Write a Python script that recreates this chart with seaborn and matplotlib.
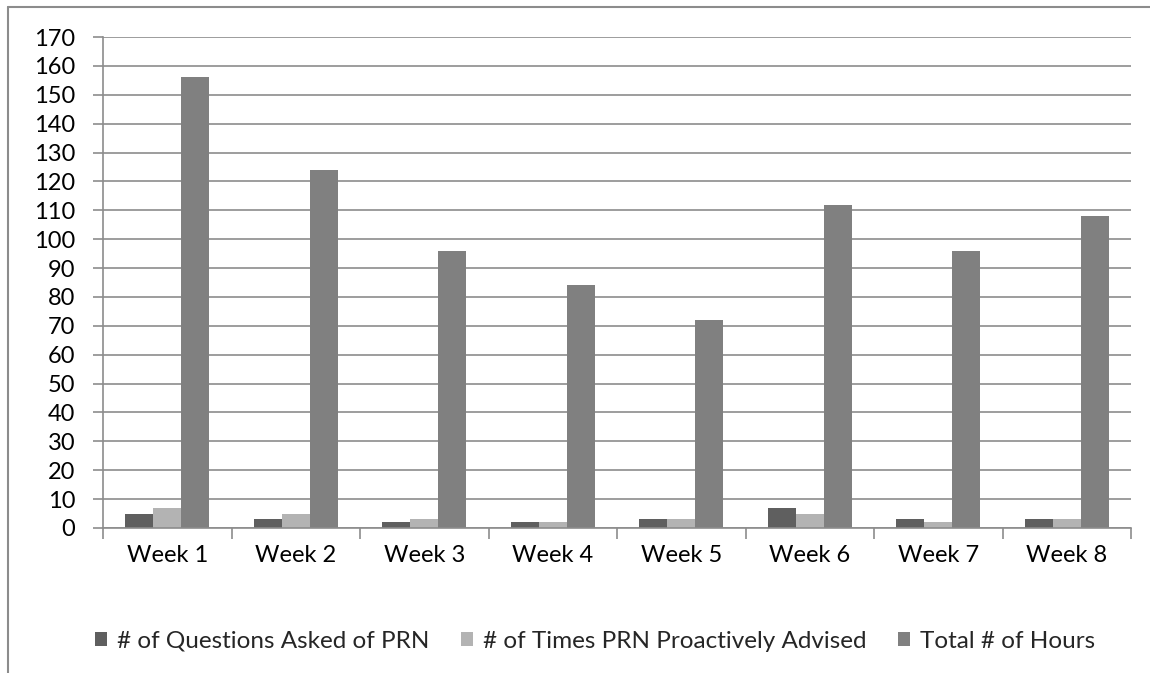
import matplotlib
matplotlib.use("Agg")
import matplotlib.pyplot as plt
import matplotlib.lines as mlines
import numpy as np
import pandas as pd
import seaborn as sns

weeks = ["Week 1", "Week 2", "Week 3", "Week 4", "Week 5", "Week 6", "Week 7", "Week 8"]
questions = [5, 3, 2, 2, 3, 7, 3, 3]
advised = [7, 5, 3, 2, 3, 5, 2, 3]
hours = [156, 124, 96, 84, 72, 112, 96, 108]

series_names = ["# of Questions Asked of PRN", "# of Times PRN Proactively Advised", "Total # of Hours"]
colors = ["#5f5f5f", "#b3b3b3", "#808080"]

data = pd.DataFrame({
    "week": weeks * 3,
    "series": [series_names[0]] * 8 + [series_names[1]] * 8 + [series_names[2]] * 8,
    "value": questions + advised + hours,
})

sns.set_theme(style="white")
plt.rcParams["font.family"] = ["Lato", "DejaVu Sans"]

fig = plt.figure(figsize=(11.5, 6.73), dpi=100)
ax = fig.add_axes([103 / 1150, 1 - 528 / 673, (1131 - 103) / 1150, (528 - 37) / 673])

sns.barplot(data=data, x="week", y="value", hue="series", palette=colors,
            width=0.655, saturation=1, linewidth=0, ax=ax, legend=True)

ax.set_ylim(0, 170)
ax.set_yticks(range(0, 171, 10))
ax.set_xlim(-0.5, 7.5)
ax.yaxis.grid(True, color="#8c8c8c", linewidth=1.2)
ax.set_axisbelow(True)
ax.set_xlabel("")
ax.set_ylabel("")

for side in ["top", "right"]:
    ax.spines[side].set_visible(False)
for side in ["left", "bottom"]:
    ax.spines[side].set_color("#8c8c8c")
    ax.spines[side].set_linewidth(1.2)

ax.tick_params(axis="y", left=True, length=7, width=1.2, color="#8c8c8c",
               labelsize=17, labelcolor="black", pad=13)
ax.tick_params(axis="x", which="major", bottom=False, length=0,
               labelsize=17, labelcolor="black", pad=12)
ax.set_xticks(np.arange(-0.5, 8, 1), minor=True)
ax.tick_params(axis="x", which="minor", bottom=True, length=8, width=1.2, color="#8c8c8c")

handles, labels = ax.get_legend_handles_labels()
ax.legend(handles, labels, loc="center", bbox_to_anchor=(595 / 1150, 1 - 641 / 673),
          bbox_transform=fig.transFigure, ncol=3, frameon=False, fontsize=17.5,
          handlelength=0.5, handleheight=0.5, handletextpad=0.4, columnspacing=1.3)

# outer chart border
fig.add_artist(mlines.Line2D([8 / 1150, 8 / 1150], [0, 1 - 7 / 673], color="#8c8c8c", linewidth=1.5))
fig.add_artist(mlines.Line2D([8 / 1150, 1], [1 - 7 / 673, 1 - 7 / 673], color="#8c8c8c", linewidth=1.5))

fig.savefig("out.png", dpi=100)
plt.close(fig)
